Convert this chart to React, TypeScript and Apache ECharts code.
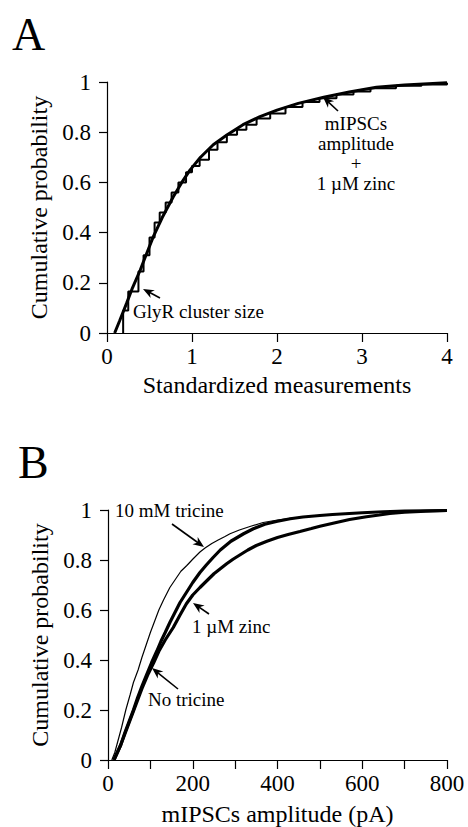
import React, { useEffect, useRef } from "react";
import * as echarts from "echarts";

const FONT = "'Liberation Serif', 'Times New Roman', serif";

// Panel A: mIPSCs amplitude + 1 µM zinc (standardized), smooth cumulative curve
const aZincCurve: [number, number][] = [
  [0.09, 0], [0.15, 0.05], [0.23, 0.118], [0.3, 0.18], [0.39, 0.25], [0.47, 0.32],
  [0.545, 0.384], [0.65, 0.46], [0.78, 0.543], [0.88, 0.6], [0.976, 0.649],
  [1.1, 0.7], [1.25, 0.75], [1.41, 0.789], [1.6, 0.83], [1.8, 0.862], [2.0, 0.888],
  [2.25, 0.915], [2.55, 0.939], [2.85, 0.96], [3.17, 0.979], [3.5, 0.988], [4.0, 0.997],
];

// Panel A: GlyR cluster size, stepped empirical cumulative distribution
const aGlyRSteps: [number, number][] = [
  [0.19, 0], [0.19, 0.09], [0.25, 0.165], [0.37, 0.245], [0.43, 0.31], [0.5, 0.38],
  [0.56, 0.44], [0.62, 0.48], [0.69, 0.52], [0.76, 0.56], [0.84, 0.6], [0.93, 0.64],
  [1.0, 0.665], [1.09, 0.69], [1.2, 0.73], [1.3, 0.76], [1.41, 0.79], [1.53, 0.81],
  [1.64, 0.83], [1.76, 0.855], [1.92, 0.875], [2.1, 0.9], [2.3, 0.92], [2.5, 0.935],
  [2.7, 0.95], [2.9, 0.962], [3.1, 0.975], [3.4, 0.985], [3.7, 0.99], [4.0, 0.997],
];

// Panel B: mIPSCs amplitude (pA) cumulative curves
const bTricine10mM: [number, number][] = [
  [9, 0], [16, 0.03], [24, 0.08], [32, 0.13], [42, 0.2], [52, 0.26], [60, 0.31],
  [71, 0.36], [80, 0.41], [90, 0.46], [100, 0.51], [110, 0.555], [120, 0.6],
  [131, 0.64], [146, 0.69], [160, 0.725], [172, 0.755], [186, 0.778], [201, 0.805],
  [217, 0.832], [229, 0.848], [245, 0.866], [260, 0.88], [275, 0.893], [288, 0.905],
  [310, 0.92], [335, 0.934], [366, 0.95], [400, 0.96], [430, 0.967], [480, 0.976],
  [531, 0.983], [571, 0.987], [620, 0.991], [660, 0.993], [700, 0.995], [750, 0.997],
  [800, 0.998],
];

const bNoTricine: [number, number][] = [
  [14, 0], [22, 0.03], [30, 0.06], [40, 0.11], [50, 0.155], [60, 0.2], [70, 0.25],
  [80, 0.295], [92, 0.345], [103, 0.39], [115, 0.435], [125, 0.475], [135, 0.51],
  [146, 0.55], [158, 0.59], [170, 0.63], [185, 0.67], [200, 0.71], [217, 0.75],
  [232, 0.78], [248, 0.81], [265, 0.84], [290, 0.875], [320, 0.905], [343, 0.925],
  [370, 0.943], [400, 0.955], [430, 0.965], [460, 0.972], [500, 0.978], [530, 0.982],
  [570, 0.986], [600, 0.989], [650, 0.993], [700, 0.996], [750, 0.997], [800, 0.998],
];

const bZinc1uM: [number, number][] = [
  [14, 0], [22, 0.03], [30, 0.06], [40, 0.105], [50, 0.15], [60, 0.195], [70, 0.24],
  [80, 0.285], [95, 0.345], [108, 0.39], [120, 0.435], [135, 0.48], [154, 0.53],
  [170, 0.58], [185, 0.625], [200, 0.66], [217, 0.69], [235, 0.72], [250, 0.745],
  [265, 0.765], [280, 0.785], [295, 0.803], [311, 0.82], [330, 0.84], [350, 0.858],
  [375, 0.875], [400, 0.89], [425, 0.902], [453, 0.914], [480, 0.926], [500, 0.935],
  [531, 0.947], [570, 0.962], [610, 0.973], [640, 0.98], [665, 0.986], [700, 0.991],
  [750, 0.995], [800, 0.998],
];

const aXName = "Standardized measurements";
const bXName = "mIPSCs amplitude (pA)";
const yName = "Cumulative probability";

function arrow(tail: [number, number], tip: [number, number]) {
  const dx = tip[0] - tail[0];
  const dy = tip[1] - tail[1];
  const len = Math.sqrt(dx * dx + dy * dy);
  const ux = dx / len;
  const uy = dy / len;
  const nx = -uy;
  const ny = ux;
  const L = 11;
  const W = 4.5;
  const bx = tip[0] - ux * L;
  const by = tip[1] - uy * L;
  return [
    {
      type: "line",
      shape: { x1: tail[0], y1: tail[1], x2: tip[0] - ux * 6, y2: tip[1] - uy * 6 },
      style: { stroke: "#000", lineWidth: 1.6 },
    },
    {
      type: "polygon",
      shape: {
        points: [
          [tip[0], tip[1]],
          [bx + nx * W, by + ny * W],
          [tip[0] - ux * L * 0.7, tip[1] - uy * L * 0.7],
          [bx - nx * W, by - ny * W],
        ],
      },
      style: { fill: "#000" },
    },
  ];
}

function txt(text: string, x: number, y: number, align: string, size = 19) {
  return {
    type: "text",
    x,
    y,
    style: {
      text,
      fill: "#000",
      fontFamily: FONT,
      fontSize: size,
      align,
      verticalAlign: "middle",
    },
  };
}

function axisCommon() {
  return {
    type: "value" as const,
    nameLocation: "middle" as const,
    nameTextStyle: { fontFamily: FONT, fontSize: 24, color: "#000" },
    axisLine: { show: true, onZero: false, lineStyle: { color: "#000", width: 1.2 } },
    axisTick: { show: true, inside: false, lineStyle: { color: "#000", width: 1.2 } },
    splitLine: { show: false },
  };
}

export default function App() {
  const ref = useRef<HTMLDivElement>(null);

  useEffect(() => {
    if (!ref.current) return;
    const chart = echarts.init(ref.current, undefined, { renderer: "svg" });
    const base = axisCommon();
    const option: any = {
      animation: false,
      backgroundColor: "#fff",
      textStyle: { fontFamily: FONT },
      grid: [
        { left: 107, top: 82, width: 340, height: 251 },
        { left: 108, top: 510, width: 339, height: 252 },
      ],
      xAxis: [
        {
          ...base,
          gridIndex: 0,
          min: 0,
          max: 4,
          interval: 1,
          name: aXName,
          nameGap: 40,
          axisTick: { ...base.axisTick, length: 9 },
          axisLabel: { fontFamily: FONT, fontSize: 23, color: "#000", margin: 12 },
        },
        {
          ...base,
          gridIndex: 1,
          min: 0,
          max: 800,
          interval: 100,
          name: bXName,
          nameGap: 42,
          axisTick: { ...base.axisTick, length: 9 },
          axisLabel: {
            fontFamily: FONT,
            fontSize: 23,
            color: "#000",
            margin: 12,
            formatter: (v: number) => (v % 200 === 0 ? String(v) : ""),
          },
        },
      ],
      yAxis: [
        {
          ...base,
          gridIndex: 0,
          min: 0,
          max: 1,
          interval: 0.2,
          name: yName,
          nameGap: 56,
          axisTick: { ...base.axisTick, length: 8 },
          axisLabel: { fontFamily: FONT, fontSize: 23, color: "#000", margin: 16 },
        },
        {
          ...base,
          gridIndex: 1,
          min: 0,
          max: 1,
          interval: 0.2,
          name: yName,
          nameGap: 56,
          axisTick: { ...base.axisTick, length: 8 },
          axisLabel: { fontFamily: FONT, fontSize: 23, color: "#000", margin: 16 },
        },
      ],
      series: [
        {
          name: "mIPSCs amplitude + 1 µM zinc",
          type: "line",
          xAxisIndex: 0,
          yAxisIndex: 0,
          data: aZincCurve,
          symbol: "none",
          lineStyle: { color: "#000", width: 3 },
          z: 3,
        },
        {
          name: "GlyR cluster size",
          type: "line",
          step: "end",
          xAxisIndex: 0,
          yAxisIndex: 0,
          data: aGlyRSteps,
          symbol: "none",
          lineStyle: { color: "#000", width: 2 },
          z: 2,
        },
        {
          name: "10 mM tricine",
          type: "line",
          xAxisIndex: 1,
          yAxisIndex: 1,
          data: bTricine10mM,
          symbol: "none",
          lineStyle: { color: "#000", width: 1.2 },
        },
        {
          name: "No tricine",
          type: "line",
          xAxisIndex: 1,
          yAxisIndex: 1,
          data: bNoTricine,
          symbol: "none",
          lineStyle: { color: "#000", width: 3.2 },
        },
        {
          name: "1 µM zinc",
          type: "line",
          xAxisIndex: 1,
          yAxisIndex: 1,
          data: bZinc1uM,
          symbol: "none",
          lineStyle: { color: "#000", width: 3.2 },
        },
      ],
      graphic: [
        txt("A", 12, 34, "left", 46),
        txt("B", 18, 462, "left", 46),
        txt("mIPSCs", 356, 123, "center"),
        txt("amplitude", 356, 143, "center"),
        txt("+", 356, 163, "center"),
        txt("1 µM zinc", 356, 183, "center"),
        txt("GlyR cluster size", 133, 311, "left"),
        txt("10 mM tricine", 115, 510, "left"),
        txt("1 µM zinc", 192, 626, "left"),
        txt("No tricine", 148, 699, "left"),
        ...arrow([338, 111], [323, 97]),
        ...arrow([160, 298], [143, 289]),
        ...arrow([172, 524], [204, 547]),
        ...arrow([209, 614], [193, 603]),
        ...arrow([178, 689], [152, 668]),
      ],
    };
    chart.setOption(option);
    return () => chart.dispose();
  }, []);

  return (
    <div
      ref={ref}
      style={{ position: "absolute", left: 0, top: 0, width: 468, height: 827, background: "#fff" }}
    />
  );
}
